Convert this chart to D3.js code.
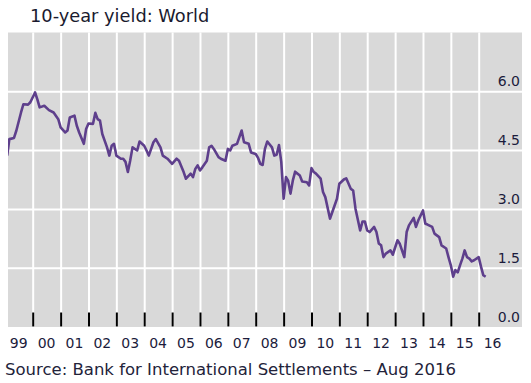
<!DOCTYPE html>
<html>
<head>
<meta charset="utf-8">
<script src="https://cdn.jsdelivr.net/npm/d3@7"></script>
<style>
  body { margin: 0; background: #fff; }
  text { font-family: "DejaVu Sans", Verdana, sans-serif; }
</style>
</head>
<body>
<svg id="chart" width="531" height="383"></svg>
<script>
// monthly 10-year yield, world
var months = [
  "1999-02","1999-03","1999-05","1999-06","1999-08","1999-09","1999-11","1999-12",
  "2000-02","2000-03","2000-04","2000-06","2000-08","2000-10","2000-12",
  "2001-01","2001-03","2001-04","2001-05","2001-07","2001-08","2001-09","2001-11","2001-12",
  "2002-01","2002-03","2002-04","2002-05","2002-06","2002-07","2002-09","2002-10","2002-11","2002-12",
  "2003-01","2003-03","2003-04","2003-05","2003-06","2003-07","2003-08","2003-10","2003-11",
  "2004-01","2004-02","2004-03","2004-05","2004-06","2004-08","2004-09","2004-11",
  "2005-01","2005-03","2005-04","2005-06","2005-07","2005-09","2005-10","2005-11","2005-12",
  "2006-01","2006-02","2006-04","2006-05","2006-06","2006-07","2006-09","2006-10","2006-12",
  "2007-01","2007-02","2007-03","2007-05","2007-07","2007-08","2007-10","2007-11",
  "2008-01","2008-02","2008-03","2008-04","2008-05","2008-06","2008-08","2008-09","2008-10","2008-11","2008-12",
  "2009-01","2009-02","2009-03","2009-04","2009-05","2009-06","2009-08","2009-09","2009-11","2009-12",
  "2010-01","2010-02","2010-03","2010-05","2010-06","2010-07","2010-09","2010-10","2010-12",
  "2011-01","2011-03","2011-04","2011-06","2011-07","2011-08","2011-10","2011-11","2011-12",
  "2012-01","2012-02","2012-04","2012-05","2012-06","2012-07","2012-08","2012-09","2012-11","2012-12",
  "2013-02","2013-03","2013-05","2013-06","2013-07","2013-09","2013-10","2013-11",
  "2014-01","2014-02","2014-03","2014-05","2014-06","2014-08","2014-09","2014-11","2014-12",
  "2015-01","2015-02","2015-03","2015-04","2015-05","2015-06","2015-07","2015-08","2015-09","2015-10","2015-11",
  "2016-01","2016-02","2016-03","2016-04"
];
var yields = [
  4.36,4.78,4.81,5.00,5.46,5.67,5.66,5.72,
  5.97,5.80,5.59,5.63,5.52,5.46,5.29,
  5.08,4.95,5.00,5.33,5.38,5.12,4.95,4.66,5.04,
  5.18,5.17,5.45,5.29,5.25,4.91,4.57,4.36,4.61,4.66,
  4.36,4.28,4.28,4.20,3.94,4.23,4.57,4.49,4.72,
  4.61,4.49,4.36,4.70,4.78,4.57,4.36,4.28,
  4.15,4.28,4.23,3.94,3.77,3.90,3.81,4.02,4.11,
  3.98,4.06,4.23,4.57,4.61,4.53,4.32,4.28,4.23,
  4.53,4.49,4.61,4.66,5.00,4.70,4.66,4.44,
  4.40,4.30,4.15,4.12,4.53,4.72,4.57,4.36,4.38,4.63,4.20,
  3.26,3.81,3.72,3.39,3.72,3.95,3.85,3.70,3.68,3.60,
  4.04,3.94,3.90,3.77,3.43,3.30,2.75,2.92,3.26,
  3.64,3.75,3.78,3.51,3.47,3.00,2.45,2.68,2.68,
  2.45,2.41,2.54,2.41,2.12,2.07,1.77,1.86,1.94,1.83,
  2.20,2.12,1.77,2.41,2.58,2.77,2.54,2.71,
  2.96,2.62,2.60,2.54,2.37,2.28,2.07,1.99,1.77,
  1.56,1.27,1.44,1.38,1.56,1.73,1.94,1.77,1.73,1.66,1.69,
  1.77,1.52,1.31,1.27
];
var yearLabels = ["99","00","01","02","03","04","05","06","07","08","09","10","11","12","13","14","15","16"];
var yTicks = [0, 1.5, 3.0, 4.5, 6.0];

var title = "10-year yield: World";
var source = "Source: Bank for International Settlements \u2013 Aug 2016";

var parse = d3.timeParse("%Y-%m");
var data = months.map(function(m, i) { return { date: parse(m), value: yields[i] }; });

var svg = d3.select("#chart");
var plot = { left: 8, right: 522, top: 32.5, bottom: 327 };

var x = d3.scaleTime()
    .domain([new Date(2000, 0, 1), new Date(2016, 0, 1)])
    .range([32.7, 478.7]);
var y = d3.scaleLinear()
    .domain([0, 7.5])
    .range([326.5, 32.5]);

svg.append("clipPath").attr("id", "clip")
  .append("rect")
    .attr("x", plot.left).attr("y", plot.top)
    .attr("width", plot.right - plot.left).attr("height", plot.bottom - plot.top);

// grey panel
svg.append("rect")
    .attr("x", plot.left).attr("y", plot.top)
    .attr("width", plot.right - plot.left).attr("height", plot.bottom - plot.top)
    .attr("fill", "#d9d9d9");

var yearStarts = d3.timeYear.range(new Date(2000, 0, 1), new Date(2016, 0, 2));

// vertical white grid at year boundaries
var vgrid = svg.append("g")
    .attr("transform", "translate(0," + plot.bottom + ")")
    .call(d3.axisBottom(x).tickValues(yearStarts).tickSize(-(plot.bottom - plot.top)).tickFormat(""));
vgrid.select(".domain").remove();
vgrid.selectAll("line").attr("stroke", "#fff").attr("stroke-width", 2);

// horizontal white grid
var hgrid = svg.append("g")
    .attr("transform", "translate(" + plot.left + ",0)")
    .call(d3.axisRight(y).tickValues(yTicks.filter(function(d) { return d > 0; }))
      .tickSize(plot.right - plot.left).tickFormat(""));
hgrid.select(".domain").remove();
hgrid.selectAll("line").attr("stroke", "#fff").attr("stroke-width", 2);

// black tick marks at the bottom
var xt = svg.append("g")
    .attr("transform", "translate(0," + (plot.bottom - 0.5) + ")")
    .call(d3.axisBottom(x).tickValues(yearStarts).tickSize(-14).tickFormat(""));
xt.select(".domain").remove();
xt.selectAll("line").attr("stroke", "#000").attr("stroke-width", 2);

// the series
var line = d3.line()
    .x(function(d) { return x(d.date); })
    .y(function(d) { return y(d.value); });

svg.append("path")
    .datum(data)
    .attr("clip-path", "url(#clip)")
    .attr("fill", "none")
    .attr("stroke", "#5e3f8c")
    .attr("stroke-width", 2.6)
    .attr("stroke-linejoin", "round")
    .attr("d", line);

// y labels sit above the gridlines, inside the panel on the right
svg.append("g").selectAll("text")
    .data(yTicks)
    .enter().append("text")
    .attr("x", 520)
    .attr("y", function(d) { return y(d) - 5; })
    .attr("text-anchor", "end")
    .attr("font-size", 14)
    .attr("fill", "#1c1c3c")
    .text(function(d) { return d.toFixed(1); });

// year labels centred in each year
svg.append("g").selectAll("text")
    .data(yearLabels)
    .enter().append("text")
    .attr("x", function(d, i) { return x(new Date(1999 + i, 6, 1)); })
    .attr("y", 348)
    .attr("text-anchor", "middle")
    .attr("font-size", 14)
    .attr("fill", "#1c1c3c")
    .text(function(d) { return d; });

svg.append("text")
    .attr("x", 30).attr("y", 22)
    .attr("font-size", 17.8)
    .attr("fill", "#1a1a2e")
    .text(title);

svg.append("text")
    .attr("x", 5).attr("y", 375)
    .attr("font-size", 16.5)
    .attr("fill", "#23233a")
    .text(source);
</script>
</body>
</html>
